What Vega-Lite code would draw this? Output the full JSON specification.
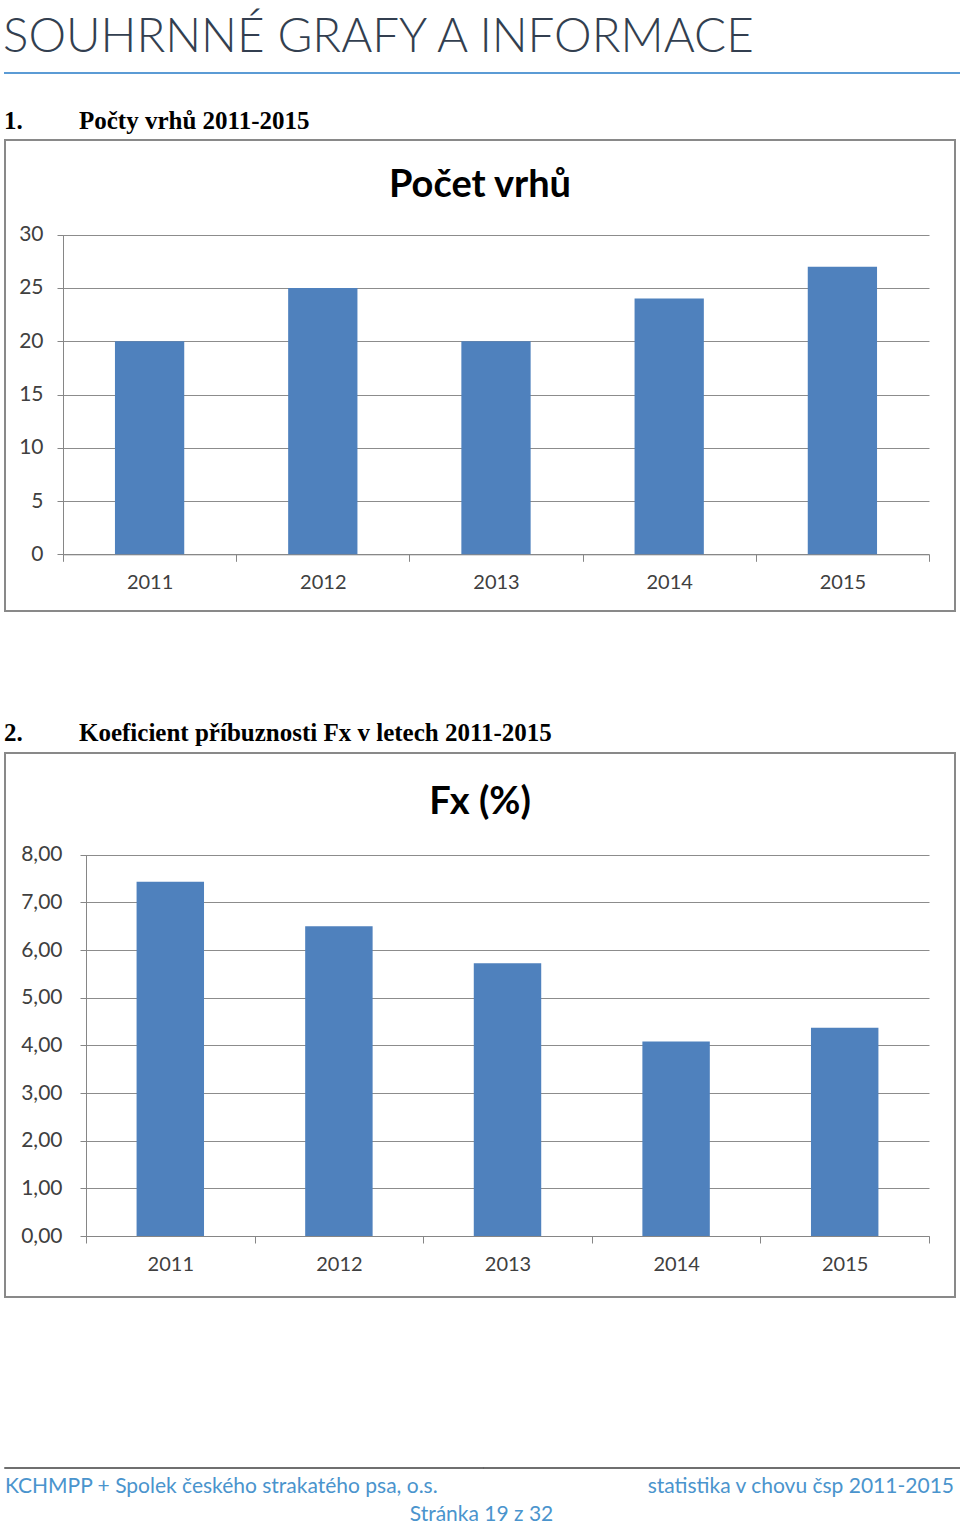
{
  "$schema": "https://vega.github.io/schema/vega-lite/v6.json",
  "padding": {"left": 2, "top": 12, "right": 0, "bottom": 0},
  "background": "white",
  "spacing": 0,
  "config": {
    "font": "Lato",
    "view": {"stroke": null},
    "concat": {"spacing": 0}
  },
  "datasets": {
    "vrhy": [
      {"rok": "2011", "pocet": 20},
      {"rok": "2012", "pocet": 25},
      {"rok": "2013", "pocet": 20},
      {"rok": "2014", "pocet": 24},
      {"rok": "2015", "pocet": 27}
    ],
    "fx": [
      {"rok": "2011", "fx": 7.43},
      {"rok": "2012", "fx": 6.50},
      {"rok": "2013", "fx": 5.72},
      {"rok": "2014", "fx": 4.08},
      {"rok": "2015", "fx": 4.37}
    ]
  },
  "vconcat": [
    {
      "width": 955, "height": 0.001,
      "data": {"values": []},
      "mark": "point",
      "view": {"stroke": "#5B9BD5", "strokeWidth": 2},
      "title": {"text": "SOUHRNNÉ GRAFY A INFORMACE", "anchor": "start", "frame": "group", "font": "Lato", "fontWeight": 300, "fontSize": 47.5, "color": "#333F50", "baseline": "top", "offset": 12, "dx": -2}
    },
    {"width": 955, "height": 34, "data": {"values": []}, "mark": "point"},
    {
      "title": {"text": "1.\u00a0\u00a0\u00a0\u00a0\u00a0\u00a0\u00a0\u00a0\u00a0Počty vrhů 2011-2015", "anchor": "start", "font": "Liberation Serif", "fontWeight": "bold", "fontSize": 25, "color": "#000000", "baseline": "top", "offset": 5},
      "vconcat": [
        {
          "width": 950, "height": 471,
          "data": {"name": "vrhy"},
          "view": {"stroke": "#898989", "strokeWidth": 2},
          "title": {"text": "Počet vrhů", "anchor": "middle", "frame": "group", "font": "Lato", "fontWeight": "bold", "fontSize": 38, "color": "#000000", "baseline": "top", "offset": -65},
          "mark": {"type": "bar", "color": "#4F81BD", "width": {"band": 0.4}},
          "encoding": {
            "x": {"field": "rok", "type": "nominal", "sort": null,
              "scale": {"range": [58, 924], "paddingInner": 0, "paddingOuter": 0},
              "axis": {"title": null, "orient": "bottom", "offset": -56.7, "labelAngle": 0, "labelFontSize": 20, "labelColor": "#404040", "labelPadding": 11, "domainColor": "#868686", "tickColor": "#868686", "tickSize": 7, "tickBand": "extent", "grid": false}},
            "y": {"field": "pocet", "type": "quantitative",
              "scale": {"domain": [0, 30], "range": [414.3, 94.7], "nice": false},
              "axis": {"title": null, "offset": -58, "values": [0, 5, 10, 15, 20, 25, 30], "grid": true, "gridColor": "#8c8c8c", "domainColor": "#868686", "tickColor": "#868686", "tickSize": 6, "labelFontSize": 21, "labelColor": "#404040", "labelPadding": 14}}
          }
        }
      ]
    },
    {"width": 955, "height": 109, "data": {"values": []}, "mark": "point"},
    {
      "title": {"text": "2.\u00a0\u00a0\u00a0\u00a0\u00a0\u00a0\u00a0\u00a0\u00a0Koeficient příbuznosti Fx v letech 2011-2015", "anchor": "start", "font": "Liberation Serif", "fontWeight": "bold", "fontSize": 25, "color": "#000000", "baseline": "top", "offset": 6},
      "vconcat": [
        {
          "width": 950, "height": 544,
          "data": {"name": "fx"},
          "view": {"stroke": "#898989", "strokeWidth": 2},
          "title": {"text": "Fx (%)", "anchor": "middle", "frame": "group", "font": "Lato", "fontWeight": "bold", "fontSize": 38, "color": "#000000", "baseline": "top", "offset": -69},
          "mark": {"type": "bar", "color": "#4F81BD", "width": {"band": 0.4}},
          "encoding": {
            "x": {"field": "rok", "type": "nominal", "sort": null,
              "scale": {"range": [81, 924], "paddingInner": 0, "paddingOuter": 0},
              "axis": {"title": null, "orient": "bottom", "offset": -61, "labelAngle": 0, "labelFontSize": 20, "labelColor": "#404040", "labelPadding": 11, "domainColor": "#868686", "tickColor": "#868686", "tickSize": 7, "tickBand": "extent", "grid": false}},
            "y": {"field": "fx", "type": "quantitative",
              "scale": {"domain": [0, 8], "range": [483, 101.7], "nice": false},
              "axis": {"title": null, "offset": -81, "values": [0, 1, 2, 3, 4, 5, 6, 7, 8], "labelExpr": "replace(format(datum.value, '.2f'), '.', ',')", "grid": true, "gridColor": "#8c8c8c", "domainColor": "#868686", "tickColor": "#868686", "tickSize": 6, "labelFontSize": 21, "labelColor": "#404040", "labelPadding": 18}}
          }
        }
      ]
    },
    {"width": 955, "height": 169, "data": {"values": []}, "mark": "point"},
    {
      "title": {"text": "Stránka 19 z 32", "orient": "bottom", "anchor": "middle", "font": "Lato", "fontSize": 21, "fontWeight": "normal", "color": "#4A94CD", "offset": 6, "baseline": "top", "dx": -2},
      "spacing": -1.5,
      "hconcat": [
        {
          "width": 478, "height": 0.001,
          "data": {"values": []},
          "mark": "point",
          "view": {"stroke": "#3f3f3f", "strokeWidth": 1.5},
          "title": {"text": "KCHMPP + Spolek českého strakatého psa, o.s.", "orient": "bottom", "anchor": "start", "frame": "group", "font": "Lato", "fontSize": 21, "fontWeight": "normal", "color": "#4A94CD", "offset": 8, "baseline": "top"}
        },
        {
          "width": 478, "height": 0.001,
          "data": {"values": []},
          "mark": "point",
          "view": {"stroke": "#3f3f3f", "strokeWidth": 1.5},
          "title": {"text": "statistika v chovu čsp 2011-2015", "orient": "bottom", "anchor": "end", "frame": "group", "font": "Lato", "fontSize": 21, "fontWeight": "normal", "color": "#4A94CD", "offset": 8, "baseline": "top", "dx": -8}
        }
      ]
    }
  ]
}
